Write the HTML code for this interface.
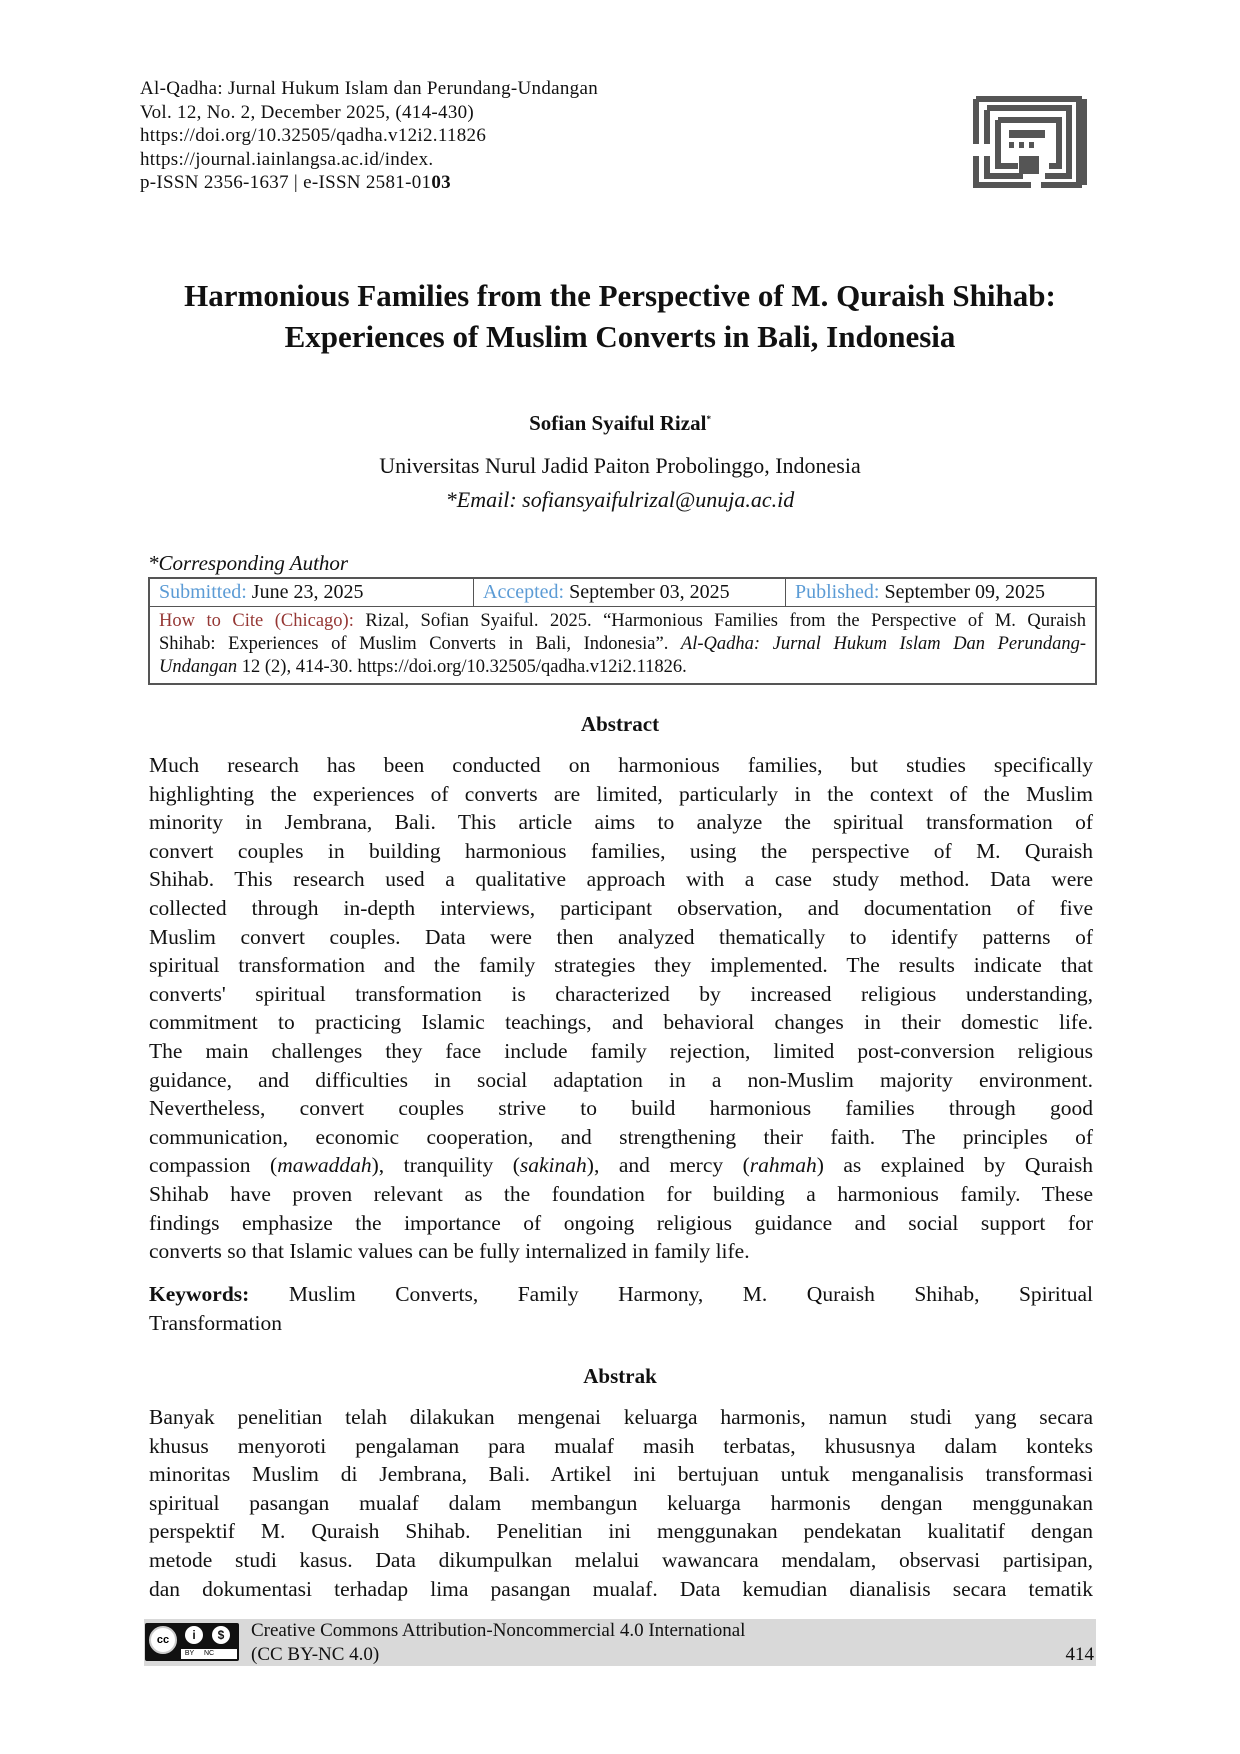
<!DOCTYPE html>
<html><head><meta charset="utf-8">
<style>
body{margin:0;background:#fff;}
.page{position:relative;width:1240px;height:1754px;background:#fff;font-family:"Liberation Serif",serif;color:#111;overflow:hidden;}
.a{position:absolute;}
.hdr{left:140px;top:77px;font-size:19px;line-height:23.5px;letter-spacing:0.3px;}
.c{text-align:center;left:0;width:1240px;}
.body{left:149px;width:944px;font-size:21.5px;line-height:28.6px;}
.body div{text-align:justify;text-align-last:justify;white-space:nowrap;}
.body div.l{text-align-last:left;}
.blue{color:#5b9bd5;}
.red{color:#953734;}
table{border-collapse:collapse;}
.cite div{text-align:justify;text-align-last:justify;white-space:nowrap;}
</style></head><body><div class="page">
<div class="a hdr">Al-Qadha: Jurnal Hukum Islam dan Perundang-Undangan<br>Vol. 12, No. 2, December 2025, (414-430)<br>https://doi.org/10.32505/qadha.v12i2.11826<br>https://journal.iainlangsa.ac.id/index.<br>p-ISSN 2356-1637 | e-ISSN 2581-01<b>03</b></div>
<svg class="a" style="left:973px;top:96px" width="114" height="92" viewBox="0 0 114 92">
<g fill="none" stroke="#555" stroke-width="6">
<path d="M3 3H106V89H68"/><path d="M111 3V89"/><path d="M14 12H96V80H72"/><path d="M3 3V48M3 60V89H58"/><path d="M14 14V48M14 60V80H50"/><path d="M25 24H86V70H76"/><path d="M25 24V70H45"/>
</g>
<rect x="36" y="34" width="36" height="8" fill="#555"/><rect x="36" y="46" width="5" height="6" fill="#555"/><rect x="46" y="46" width="5" height="6" fill="#555"/><rect x="56" y="46" width="5" height="6" fill="#555"/>
<rect x="46" y="60" width="20" height="18" fill="#555"/>
</svg>
<div class="a c" style="top:275px;font-size:31px;font-weight:bold;line-height:41px;">Harmonious Families from the Perspective of M. Quraish Shihab:<br>Experiences of Muslim Converts in Bali, Indonesia</div>
<div class="a c" style="top:411px;font-size:21px;font-weight:bold;">Sofian Syaiful Rizal<sup style="font-size:9px">*</sup></div>
<div class="a c" style="top:453px;font-size:22px;">Universitas Nurul Jadid Paiton Probolinggo, Indonesia</div>
<div class="a c" style="top:487px;font-size:22px;font-style:italic;">*Email: sofiansyaifulrizal@unuja.ac.id</div>
<div class="a" style="left:148px;top:551px;font-size:21px;font-style:italic;">*Corresponding Author</div>
<table class="a" style="left:148px;top:577px;width:949px;border:2px solid #555;font-size:20px;">
<tr style="height:28px"><td style="border:1.5px solid #555;padding:0 9px;width:305px"><span class="blue">Submitted:</span> June 23, 2025</td><td style="border:1.5px solid #555;padding:0 9px;width:293px"><span class="blue">Accepted:</span> September 03, 2025</td><td style="border:1.5px solid #555;padding:0 9px"><span class="blue">Published:</span> September 09, 2025</td></tr>
<tr><td colspan="3" class="cite" style="border:1.5px solid #555;padding:3px 9px 4px;font-size:18.5px;line-height:23px;">
<div><span class="red">How to Cite (Chicago):</span> Rizal, Sofian Syaiful. 2025. “Harmonious Families from the Perspective of M. Quraish</div>
<div>Shihab: Experiences of Muslim Converts in Bali, Indonesia”. <i>Al-Qadha: Jurnal Hukum Islam Dan Perundang-</i></div>
<div style="text-align-last:left"><i>Undangan</i> 12 (2), 414-30. https://doi.org/10.32505/qadha.v12i2.11826.</div>
</td></tr>
</table>
<div class="a c" style="top:712px;font-size:21px;font-weight:bold;">Abstract</div>
<div class="a body" style="top:751px;">
<div>Much research has been conducted on harmonious families, but studies specifically</div>
<div>highlighting the experiences of converts are limited, particularly in the context of the Muslim</div>
<div>minority in Jembrana, Bali. This article aims to analyze the spiritual transformation of</div>
<div>convert couples in building harmonious families, using the perspective of M. Quraish</div>
<div>Shihab. This research used a qualitative approach with a case study method. Data were</div>
<div>collected through in-depth interviews, participant observation, and documentation of five</div>
<div>Muslim convert couples. Data were then analyzed thematically to identify patterns of</div>
<div>spiritual transformation and the family strategies they implemented. The results indicate that</div>
<div>converts' spiritual transformation is characterized by increased religious understanding,</div>
<div>commitment to practicing Islamic teachings, and behavioral changes in their domestic life.</div>
<div>The main challenges they face include family rejection, limited post-conversion religious</div>
<div>guidance, and difficulties in social adaptation in a non-Muslim majority environment.</div>
<div>Nevertheless, convert couples strive to build harmonious families through good</div>
<div>communication, economic cooperation, and strengthening their faith. The principles of</div>
<div>compassion (<i>mawaddah</i>), tranquility (<i>sakinah</i>), and mercy (<i>rahmah</i>) as explained by Quraish</div>
<div>Shihab have proven relevant as the foundation for building a harmonious family. These</div>
<div>findings emphasize the importance of ongoing religious guidance and social support for</div>
<div class="l">converts so that Islamic values can be fully internalized in family life.</div>
</div>
<div class="a body" style="top:1280px;">
<div><b>Keywords:</b> Muslim Converts, Family Harmony, M. Quraish Shihab, Spiritual</div>
<div class="l">Transformation</div>
</div>
<div class="a c" style="top:1364px;font-size:21px;font-weight:bold;">Abstrak</div>
<div class="a body" style="top:1403px;">
<div>Banyak penelitian telah dilakukan mengenai keluarga harmonis, namun studi yang secara</div>
<div>khusus menyoroti pengalaman para mualaf masih terbatas, khususnya dalam konteks</div>
<div>minoritas Muslim di Jembrana, Bali. Artikel ini bertujuan untuk menganalisis transformasi</div>
<div>spiritual pasangan mualaf dalam membangun keluarga harmonis dengan menggunakan</div>
<div>perspektif M. Quraish Shihab. Penelitian ini menggunakan pendekatan kualitatif dengan</div>
<div>metode studi kasus. Data dikumpulkan melalui wawancara mendalam, observasi partisipan,</div>
<div>dan dokumentasi terhadap lima pasangan mualaf. Data kemudian dianalisis secara tematik</div>
</div>
<div class="a" style="left:144px;top:1619px;width:952px;height:47px;background:#d9d9d9;"></div>
<div class="a" style="left:145px;top:1623px;width:94px;height:38px;background:#111;border-radius:2px;">
<div class="a" style="left:4px;top:3px;width:24px;height:24px;border-radius:50%;background:#fff;border:2px solid #ccc;font:bold 11px 'Liberation Sans',sans-serif;text-align:center;line-height:24px;color:#000;">cc</div>
<div class="a" style="left:40px;top:3px;width:18px;height:18px;border-radius:50%;background:#fff;font:bold 12px 'Liberation Sans',sans-serif;text-align:center;line-height:18px;">i</div>
<div class="a" style="left:67px;top:3px;width:18px;height:18px;border-radius:50%;background:#fff;font:bold 12px 'Liberation Sans',sans-serif;text-align:center;line-height:18px;">$</div>
<div class="a" style="left:36px;top:26px;width:56px;height:10px;background:#fff;font:7px 'Liberation Sans',sans-serif;line-height:10px;color:#000;">&nbsp;&nbsp;BY&nbsp;&nbsp;&nbsp;&nbsp;&nbsp;NC</div>
</div>
<div class="a" style="left:251px;top:1619px;font-size:19px;line-height:24px;">Creative Commons Attribution-Noncommercial 4.0 International<br>(CC BY-NC 4.0)</div>
<div class="a" style="left:1050px;top:1644px;font-size:19px;width:44px;text-align:right;">414</div>
</div></body></html>
